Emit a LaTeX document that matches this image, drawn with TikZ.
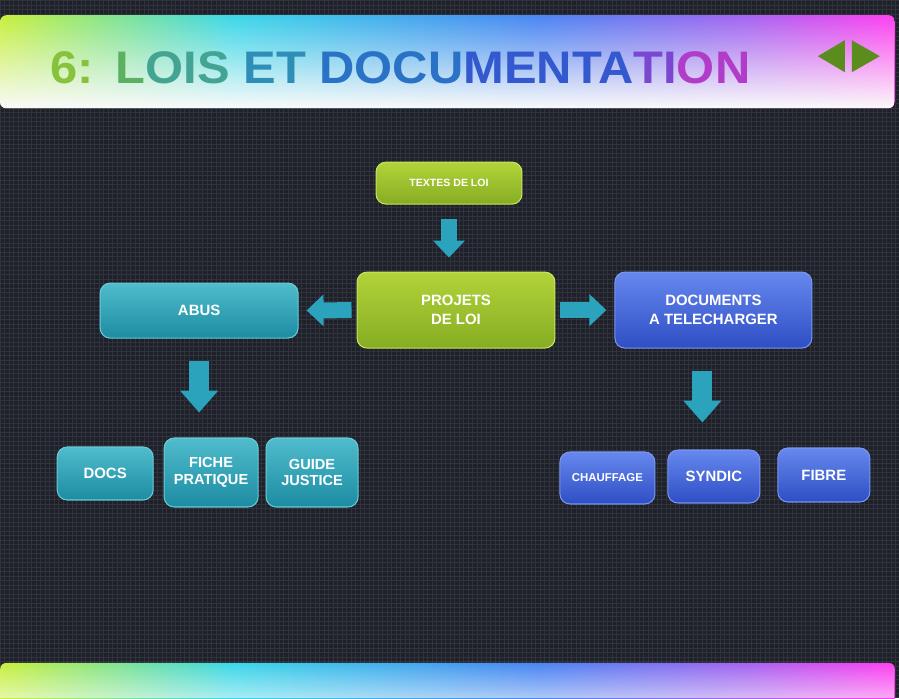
\documentclass[tikz,border=0pt]{standalone}
\usepackage{fontspec}
\setmainfont{Liberation Sans}
\usetikzlibrary{arrows.meta,fadings}

\definecolor{bgcol}{HTML}{1E2129}
\definecolor{gridcol}{HTML}{30333C}
\definecolor{rbA}{HTML}{C8F03C}
\definecolor{rbB}{HTML}{3CD8E8}
\definecolor{rbC}{HTML}{4A86F2}
\definecolor{rbD}{HTML}{A864F0}
\definecolor{rbE}{HTML}{FF40F0}
\definecolor{arrowcol}{HTML}{2BA3BD}
\definecolor{navcol}{HTML}{5B8C1E}

\pgfdeclarehorizontalshading{rainbow}{100bp}{color(0bp)=(rbA); color(25bp)=(rbA);
  color(38bp)=(rbB); color(55bp)=(rbC); color(67bp)=(rbD); color(75bp)=(rbE); color(100bp)=(rbE)}
\tikzfading[name=bannerfade, top color=transparent!100, middle color=transparent!35, bottom color=transparent!0]
\tikzfading[name=footfade, top color=transparent!100, bottom color=transparent!45]

\tikzset{
  box/.style = {rounded corners=0.2cm, text=white, align=center, inner sep=0pt,
    line width=0.6pt, font=\bfseries\fontsize{8.5}{10.8}\selectfont},
  greenbox/.style = {box, top color={rgb,255:red,178;green,212;blue,58}, bottom color={rgb,255:red,134;green,172;blue,34},
    draw={rgb,255:red,200;green,228;blue,96}},
  tealbox/.style = {box, top color={rgb,255:red,80;green,188;blue,204}, bottom color={rgb,255:red,28;green,140;blue,162},
    draw={rgb,255:red,108;green,202;blue,216}},
  bluebox/.style = {box, top color={rgb,255:red,102;green,136;blue,238}, bottom color={rgb,255:red,46;green,78;blue,196},
    draw={rgb,255:red,122;green,150;blue,240}},
  bigarrow/.style = {draw=arrowcol, line width=0.32cm, -{Triangle[width=0.62cm,length=0.34cm]}},
  hugearrow/.style = {draw=arrowcol, line width=0.4cm, -{Triangle[width=0.74cm,length=0.44cm]}},
}

\begin{document}
\begin{tikzpicture}

  % background
  \fill[bgcol] (0,0) rectangle (17.98,-13.96);
  \draw[gridcol, line width=0.25pt, step=0.09cm] (0,0) grid (17.98,-13.96);
  \useasboundingbox (0,0) rectangle (17.98,-13.96);

  % header
  \shade[shading=rainbow, rounded corners=0.12cm] (0,-0.3) rectangle (17.9,-2.16);
  \fill[white!96!gray, path fading=bannerfade, rounded corners=0.12cm] (0,-0.3) rectangle (17.9,-2.16);
  \node[anchor=base west, inner sep=0pt, font=\bfseries\fontsize{26}{26}\selectfont] (title) at (1.0,-1.67)
    {\scalebox{1.07}[1]{\textcolor[HTML]{86C23C}{6:}\hspace{0.45em}\textcolor[HTML]{5CB062}{L}\textcolor[HTML]{44A494}{OIS}
     \textcolor[HTML]{2E8EB6}{ET} \textcolor[HTML]{2A72C6}{DOCU}\textcolor[HTML]{3458CE}{MENTA}\textcolor[HTML]{7A48D0}{TI}\textcolor[HTML]{B03CC8}{ON}}};
  \fill[navcol] (16.36,-1.12) -- (16.9,-0.8) -- (16.9,-1.44) -- cycle;
  \fill[navcol] (17.04,-0.8) -- (17.6,-1.12) -- (17.04,-1.44) -- cycle;

  % boxes
  \node[greenbox, minimum width=2.92cm, minimum height=0.84cm, font=\bfseries\fontsize{6}{7}\selectfont]
    (textes) at (8.98,-3.66) {TEXTES DE LOI};
  \node[greenbox, minimum width=3.96cm, minimum height=1.52cm] (projets) at (9.12,-6.2) {PROJETS\\DE LOI};
  \node[tealbox, minimum width=3.96cm, minimum height=1.1cm] (abus) at (3.98,-6.21) {ABUS};
  \node[bluebox, minimum width=3.94cm, minimum height=1.52cm] (documents) at (14.27,-6.2) {DOCUMENTS\\A TELECHARGER};

  \node[tealbox, minimum width=1.92cm, minimum height=1.06cm] (docs) at (2.1,-9.47) {DOCS};
  \node[tealbox, minimum width=1.88cm, minimum height=1.38cm, font=\bfseries\fontsize{8.3}{9.4}\selectfont]
    (fiche) at (4.22,-9.45) {FICHE\\PRATIQUE};
  \node[tealbox, minimum width=1.84cm, minimum height=1.38cm, font=\bfseries\fontsize{8.3}{9.4}\selectfont]
    (guide) at (6.24,-9.45) {GUIDE\\JUSTICE};

  \node[bluebox, minimum width=1.9cm, minimum height=1.04cm, font=\bfseries\fontsize{6.5}{7.5}\selectfont]
    (chauffage) at (12.15,-9.56) {CHAUFFAGE};
  \node[bluebox, minimum width=1.84cm, minimum height=1.06cm] (syndic) at (14.28,-9.53) {SYNDIC};
  \node[bluebox, minimum width=1.84cm, minimum height=1.08cm] (fibre) at (16.48,-9.5) {FIBRE};

  % arrows
  \draw[bigarrow, shorten <=0.28cm, shorten >=0.28cm] (textes.south) -- (textes.south |- projets.north);
  \draw[bigarrow, shorten <=0.1cm, shorten >=0.16cm] (projets.west) -- (abus.east);
  \draw[bigarrow, shorten <=0.1cm, shorten >=0.16cm] (projets.east) -- (documents.west);
  \draw[hugearrow, shorten <=0.44cm, shorten >=0.5cm] (abus.south) -- (abus.south |- fiche.north);
  \draw[hugearrow, shorten <=0.44cm, shorten >=0.54cm] ([xshift=-0.22cm]documents.south)
    -- ([xshift=-0.22cm]documents.south |- syndic.north);

  % footer
  \shade[shading=rainbow, rounded corners=0.12cm] (0,-13.26) rectangle (17.9,-14.2);
  \fill[white, path fading=footfade] (0,-13.26) rectangle (17.9,-13.96);

\end{tikzpicture}
\end{document}
